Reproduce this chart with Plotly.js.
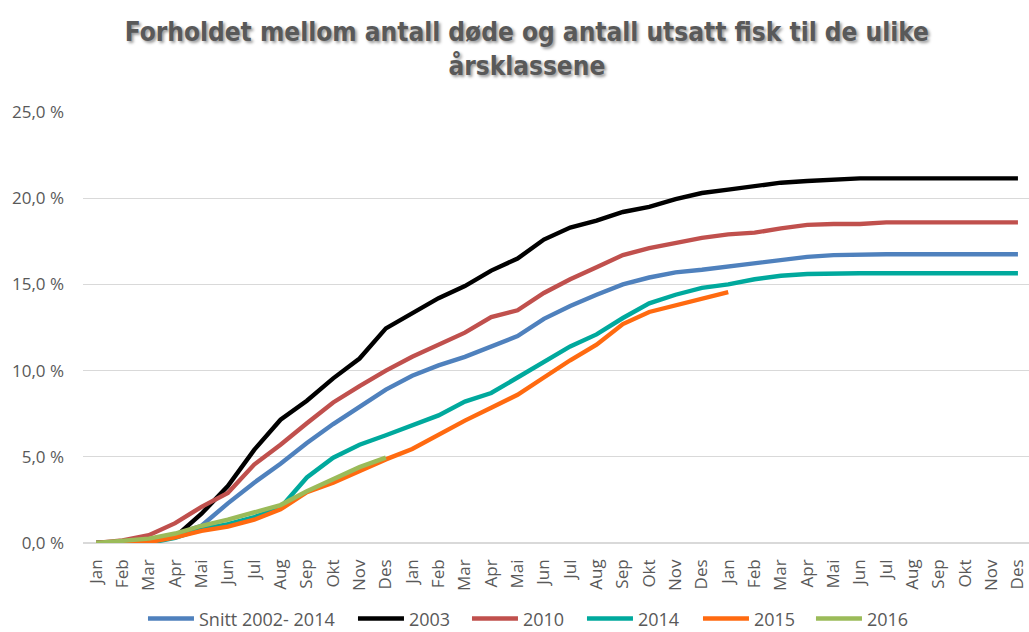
<!DOCTYPE html>
<html>
<head>
<meta charset="utf-8">
<script src="https://cdn.plot.ly/plotly-3.0.1.min.js"></script>
<style>html,body{margin:0;padding:0;background:#fff;}#chart{width:1029px;height:632px;}</style>
</head>
<body>
<div id="chart"></div>
<script>
// Tick labels (three production years, monthly)
var tickLabels = ['Jan','Feb','Mar','Apr','Mai','Jun','Jul','Aug','Sep','Okt','Nov','Des',
                  'Jan','Feb','Mar','Apr','Mai','Jun','Jul','Aug','Sep','Okt','Nov','Des',
                  'Jan','Feb','Mar','Apr','Mai','Jun','Jul','Aug','Sep','Okt','Nov','Des'];
var yTickVals = [0, 5, 10, 15, 20, 25];
var yTickLabels = ['0,0 %', '5,0 %', '10,0 %', '15,0 %', '20,0 %', '25,0 %'];

// Series values (%)
var snitt = [0, 0.05, 0.2, 0.5, 1.0, 2.3, 3.5, 4.6, 5.8, 6.9, 7.9, 8.9,
             9.7, 10.3, 10.8, 11.4, 12.0, 13.0, 13.75, 14.4, 15.0, 15.4, 15.7, 15.85,
             16.05, 16.25, 16.4, 16.6, 16.7, 16.75, 16.75, 16.75, 16.75, 16.75, 16.75, 16.75];
var y2003 = [0, 0.05, 0.15, 0.35, 1.7, 3.3, 5.4, 7.15, 8.25, 9.55, 10.7, 12.45,
             13.35, 14.2, 14.9, 15.8, 16.5, 17.6, 18.3, 18.7, 19.2, 19.5, 19.95, 20.3,
             20.5, 20.7, 20.9, 21.0, 21.1, 21.15, 21.15, 21.15, 21.15, 21.15, 21.15, 21.15];
var y2010 = [0, 0.15, 0.45, 1.15, 2.1, 2.9, 4.55, 5.7, 6.95, 8.15, 9.1, 10.0,
             10.8, 11.5, 12.2, 13.1, 13.5, 14.5, 15.3, 16.0, 16.7, 17.1, 17.4, 17.7,
             17.9, 18.0, 18.25, 18.45, 18.5, 18.5, 18.6, 18.6, 18.6, 18.6, 18.6, 18.6];
var y2014 = [0, 0, 0, 0.3, 0.8, 1.1, 1.5, 2.05, 3.8, 4.95, 5.7, 6.25,
             6.8, 7.4, 8.2, 8.7, 9.6, 10.5, 11.4, 12.1, 13.05, 13.9, 14.4, 14.8,
             15.0, 15.3, 15.5, 15.6, 15.65, 15.65, 15.65, 15.65, 15.65, 15.65, 15.65, 15.65];
var y2015 = [0, 0, 0.05, 0.33, 0.7, 0.95, 1.35, 1.95, 2.95, 3.5, 4.2, 4.85,
             5.45, 6.3, 7.1, 7.85, 8.6, 9.6, 10.6, 11.5, 12.7, 13.4, 13.8, 14.2,
             14.55];
var y2016 = [0, 0.1, 0.25, 0.55, 1.0, 1.35, 1.75, 2.2, 3.0, 3.7, 4.4, 4.95];

var seriesNames = ['Snitt 2002- 2014', '2003', '2010', '2014', '2015', '2016'];
var seriesData = [snitt, y2003, y2010, y2014, y2015, y2016];

// Styling (kept apart from the data)
var seriesColors = ['#4F81BD', '#000000', '#C0504D', '#00A99D', '#FF6A10', '#9BBB59'];
var legendEntryWidths = [149, 53, 54, 55, 52, 45];

var xIdx = tickLabels.map(function (_, i) { return i; });

var traces = seriesData.map(function (vals, k) {
  return {
    type: 'scatter',
    mode: 'lines',
    name: seriesNames[k],
    x: xIdx.slice(0, vals.length),
    y: vals,
    line: {color: seriesColors[k], width: 4.4},
    legendwidth: legendEntryWidths[k],
    hoverinfo: 'skip'
  };
});

var gray = '#595959';
var layout = {
  width: 1029,
  height: 632,
  paper_bgcolor: '#ffffff',
  plot_bgcolor: '#ffffff',
  margin: {l: 83, r: 0, t: 112, b: 89, autoexpand: false},
  title: {
    text: 'Forholdet mellom antall døde og antall utsatt fisk til de ulike<br>årsklassene',
    x: 0.512, xanchor: 'center', xref: 'container',
    y: 0.935, yanchor: 'top', yref: 'container',
    font: {family: '"Liberation Sans Narrow", "DejaVu Sans Condensed", sans-serif', size: 26, color: gray, weight: 'bold',
           shadow: '2px 2px 3px rgba(0,0,0,0.4)'}
  },
  xaxis: {
    range: [-0.5, 35.42],
    tickmode: 'array',
    tickvals: xIdx,
    ticktext: tickLabels,
    tickangle: -90,
    ticks: '',
    showgrid: false,
    zeroline: false,
    showline: false,
    ticklabelstandoff: 12,
    tickfont: {family: '"Open Sans", sans-serif', size: 17, color: gray},
    fixedrange: true
  },
  yaxis: {
    range: [0, 25],
    tickmode: 'array',
    tickvals: yTickVals,
    ticktext: yTickLabels,
    ticks: '',
    showgrid: true,
    gridcolor: '#d9d9d9',
    gridwidth: 1.3,
    zeroline: true,
    zerolinecolor: '#d9d9d9',
    zerolinewidth: 1.3,
    showline: false,
    ticklabelstandoff: 18,
    tickfont: {family: '"Open Sans", sans-serif', size: 17, color: gray},
    fixedrange: true
  },
  legend: {
    orientation: 'h',
    x: 0.0634, xanchor: 'left',
    y: -0.176, yanchor: 'middle',
    font: {family: '"Open Sans", sans-serif', size: 18, color: gray},
    itemwidth: 46,
    bgcolor: 'rgba(0,0,0,0)'
  },
  showlegend: true
};

Plotly.newPlot('chart', traces, layout, {displayModeBar: false, staticPlot: true});
</script>
</body>
</html>
